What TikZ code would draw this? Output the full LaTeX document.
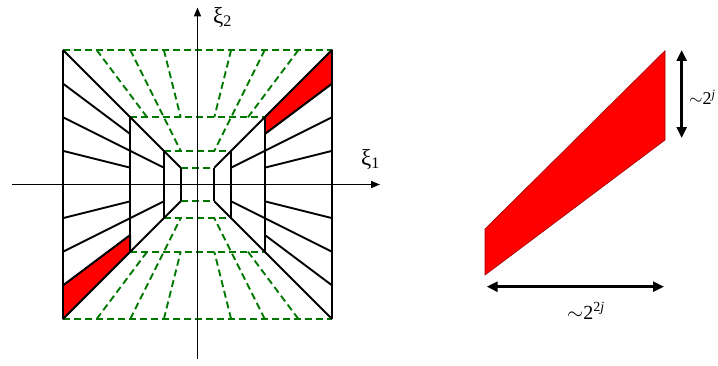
\documentclass[tikz,border=0pt]{standalone}
\usepackage{fontspec}
\setmainfont{Liberation Serif}
\usetikzlibrary{arrows.meta}
\definecolor{dgreen}{RGB}{0,120,0}
\begin{document}
\begin{tikzpicture}[x=1pt,y=1pt,
  blk/.style={line width=1.9pt, black},
  gdash/.style={line width=1.9pt, dgreen, dash pattern=on 7pt off 4pt},
  wedge/.style={fill=red, draw=black, line width=1.5pt, line join=round},
  axis/.style={line width=1.6pt, -{Triangle[length=9pt,width=7pt]}},
  dimarrow/.style={line width=2.6pt, {Triangle[length=11pt,width=10pt]}-{Triangle[length=11pt,width=10pt]}},
  lab/.style={inner sep=0pt, font=\fontsize{20}{20}\selectfont},
  xilab/.style={inner sep=0pt, font=\fontsize{23}{23}\selectfont}]
\useasboundingbox (0,0) rectangle (718,365);
\begin{scope}[shift={(197.5,180.5)}]
\def\A{134.5}\def\B{67.25}\def\C{33.6}\def\D{16.8}
% red wedges
\draw[wedge] (\B,\B) -- (\A,\A) -- (\A,0.75*\A) -- (\B,0.75*\B) -- cycle;
\draw[wedge] (-\B,-\B) -- (-\A,-\A) -- (-\A,-0.75*\A) -- (-\B,-0.75*\B) -- cycle;
% green dashed (vertical cone)
\foreach \r in {\A,\B,\C,\D} {
  \draw[gdash] (-\r,\r) -- (\r,\r);
  \draw[gdash] (-\r,-\r) -- (\r,-\r);
}
\foreach \s in {1,-1} {
  \foreach \t in {1,-1} {
    \draw[gdash] (\s*0.75*\A,\t*\A) -- (\s*0.75*\B,\t*\B);
    \draw[gdash] (\s*0.25*\A,\t*\A) -- (\s*0.25*\B,\t*\B);
    \draw[gdash] (\s*0.5*\A,\t*\A) -- (\s*0.5*\C,\t*\C);
  }
}
% black solid (horizontal cone)
\foreach \r in {\A,\B,\C,\D} {
  \draw[blk] (-\r,-\r) -- (-\r,\r);
  \draw[blk] (\r,-\r) -- (\r,\r);
}
\foreach \s in {1,-1} {
  \foreach \t in {1,-1} {
    \draw[blk] (\s*\A,\t*\A) -- (\s*\D,\t*\D);
    \draw[blk] (\s*\A,\t*0.75*\A) -- (\s*\B,\t*0.75*\B);
    \draw[blk] (\s*\A,\t*0.25*\A) -- (\s*\B,\t*0.25*\B);
    \draw[blk] (\s*\A,\t*0.5*\A) -- (\s*\C,\t*0.5*\C);
  }
}
% axes
\coordinate (xs) at (-185.5,0);
\coordinate (xe) at (182.5,0);
\coordinate (ys) at (0,-174);
\coordinate (ye) at (0,177);
\draw[axis] (xs) -- (xe);
\draw[axis] (ys) -- (ye);
\end{scope}
\node[xilab, anchor=west] (xi2) at (213,348) {ξ\textsubscript{2}};
\node[xilab, anchor=west] (xi1) at (361,206) {ξ\textsubscript{1}};
% right figure
\coordinate (p1) at (485,136);
\coordinate (p2) at (665,314.3);
\coordinate (p3) at (665,225);
\coordinate (p4) at (485,90);
\fill[red] (p1) -- (p2) -- (p3) -- (p4) -- cycle;
\draw[red!60!black, line width=0.6pt] (p1) -- (p2) -- (p3) -- (p4) -- cycle;
\coordinate (v1) at (681.7,315);
\coordinate (v2) at (681.7,227);
\coordinate (h1) at (486.7,78.3);
\coordinate (h2) at (664,78.3);
\draw[dimarrow] (v1) -- (v2);
\draw[dimarrow] (h1) -- (h2);
\node[inner sep=0pt, font=\fontsize{18}{18}\selectfont, anchor=west] (lj) at (689,268) {$\sim$2\textsuperscript{\itshape j}};
\node[lab] (l2j) at (586,54) {$\sim$2\textsuperscript{2\itshape j}};
\end{tikzpicture}
\end{document}
